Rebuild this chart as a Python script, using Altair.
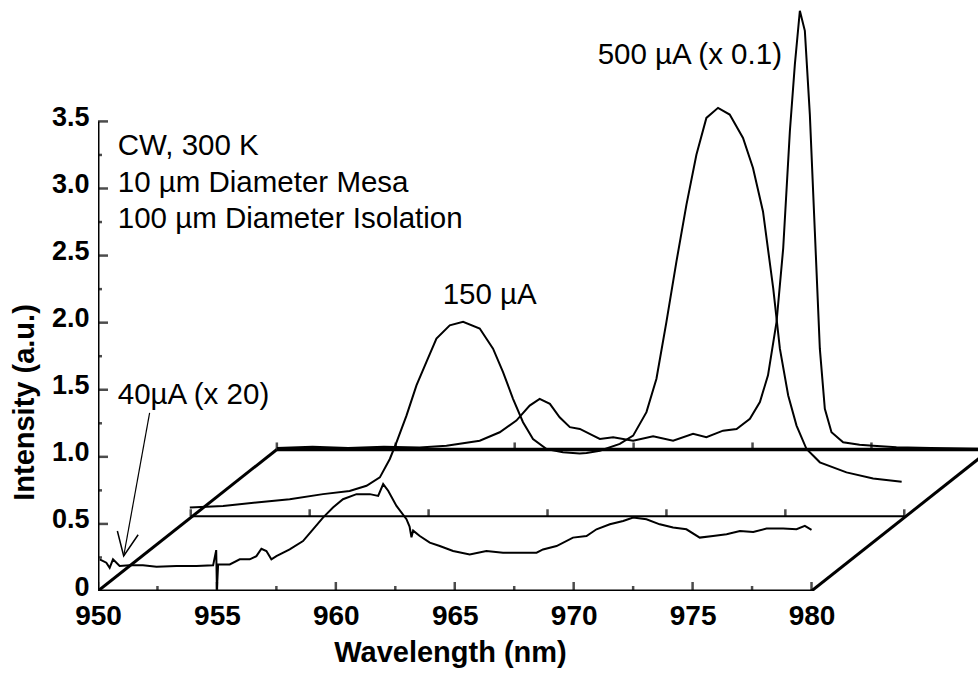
import altair as alt
import pandas as pd

# ---------------- data ----------------
# 40 uA (x 20) spectrum, front plane
front_wl = [950.07, 950.35, 950.49, 950.63, 950.91, 951.33, 951.89, 952.46, 953.3, 954.14,
            954.84, 954.97, 955.0, 955.05, 955.54, 955.96, 956.38, 956.66, 956.87, 957.08,
            957.29, 957.5, 958.06, 958.62, 959.04, 959.46, 959.88, 960.3, 960.87, 961.43,
            961.78, 961.99, 962.2, 962.55, 962.97, 963.1, 963.18, 963.25, 963.53, 963.95,
            964.37, 964.93, 965.63, 966.33, 967.03, 967.73, 968.44, 968.71, 969.28, 969.97,
            970.54, 970.96, 971.52, 972.08, 972.5, 973.06, 973.62, 974.18, 974.74, 975.3,
            975.86, 976.43, 976.99, 977.55, 978.11, 978.81, 979.37, 979.72, 980.0]
front_int = [0.236, 0.211, 0.173, 0.236, 0.186, 0.191, 0.191, 0.181, 0.186, 0.186,
             0.191, 0.305, 0.01, 0.198, 0.198, 0.236, 0.236, 0.26, 0.315, 0.298,
             0.236, 0.26, 0.31, 0.372, 0.46, 0.547, 0.622, 0.684, 0.722, 0.722,
             0.709, 0.797, 0.747, 0.634, 0.535, 0.48, 0.40, 0.45, 0.41, 0.36,
             0.335, 0.298, 0.273, 0.298, 0.286, 0.286, 0.286, 0.31, 0.335, 0.398,
             0.41, 0.46, 0.497, 0.522, 0.547, 0.535, 0.497, 0.473, 0.46, 0.398,
             0.41, 0.423, 0.447, 0.44, 0.465, 0.465, 0.46, 0.485, 0.455]

# 150 uA spectrum, middle plane
mid_wl = [949.96, 951.36, 952.76, 954.16, 955.56, 956.68, 957.39, 957.95, 958.37, 958.65,
          959.07, 959.49, 959.91, 960.33, 960.89, 961.45, 962.15, 962.71, 963.13, 963.55,
          963.97, 964.39, 964.96, 965.65, 966.35, 966.64, 967.2, 968.04, 968.6, 969.16,
          969.58, 970.0, 970.42, 970.84, 971.26, 971.68, 972.17, 972.66, 973.22, 973.64,
          974.06, 974.49, 974.77, 975.12, 975.47, 975.89, 976.45, 977.57, 978.69, 979.89]
mid_int = [0.065, 0.077, 0.103, 0.127, 0.165, 0.189, 0.227, 0.29, 0.427, 0.551,
           0.75, 0.975, 1.15, 1.324, 1.423, 1.449, 1.399, 1.249, 1.075, 0.875,
           0.701, 0.576, 0.501, 0.477, 0.468, 0.471, 0.489, 0.539, 0.601, 0.776,
           1.025, 1.449, 1.898, 2.321, 2.695, 2.969, 3.044, 2.994, 2.82, 2.596,
           2.272, 1.698, 1.249, 0.9, 0.676, 0.501, 0.402, 0.327, 0.282, 0.257]

# 500 uA (x 0.1) spectrum, back plane
back_wl = [950.0, 951.5, 953.0, 954.5, 956.0, 957.13, 958.53, 959.37, 960.07, 960.63,
           961.05, 961.48, 961.89, 962.32, 962.74, 963.3, 963.58, 964.14, 964.98, 965.82,
           966.66, 967.5, 968.06, 968.76, 969.33, 969.89, 970.31, 970.65, 971.01, 971.29,
           971.57, 971.78, 971.99, 972.2, 972.41, 972.62, 972.83, 973.04, 973.32, 973.81,
           974.5, 975.07, 976.05, 977.5, 979.5]
back_int = [0.01, 0.02, 0.01, 0.02, 0.015, 0.028, 0.065, 0.128, 0.215, 0.327,
            0.377, 0.34, 0.24, 0.166, 0.153, 0.103, 0.078, 0.091, 0.065, 0.098,
            0.065, 0.116, 0.091, 0.14, 0.153, 0.228, 0.353, 0.552, 0.951, 1.5,
            2.372, 2.87, 3.27, 3.12, 2.496, 1.624, 0.751, 0.303, 0.128, 0.053,
            0.035, 0.028, 0.016, 0.01, 0.005]

# pseudo-3D planes: wavelength / intensity shift of each baseline
offset_wl = [0.0, 3.9, 7.52]
offset_int = [0.0, 0.557, 1.055]
wl_start, wl_end = 950, 980

x_major = [950, 955, 960, 965, 970, 975, 980]
x_minor = [952.5, 957.5, 962.5, 967.5, 972.5, 977.5]
y_major = [0.5, 1.0, 1.5, 2.0, 2.5, 3.0, 3.5]
y_minor = [0.25, 0.75, 1.25, 1.75, 2.25, 2.75, 3.25]
y_label_values = [0, 0.5, 1.0, 1.5, 2.0, 2.5, 3.0, 3.5]
y_top = 3.5

notes = ["CW, 300 K", "10 µm Diameter Mesa", "100 µm Diameter Isolation",
         "40µA (x 20)", "150 µA", "500 µA (x 0.1)"]
notes_wl = [950.83, 950.83, 950.83, 950.83, 964.49, 971.01]
notes_int = [3.317, 3.041, 2.773, 1.461, 2.206, 3.995]

arrow_from = (952.17, 1.327)
arrow_to = (951.08, 0.261)

# ---------------- build tables ----------------
rows = []
for k, (wl, it) in enumerate([(front_wl, front_int), (mid_wl, mid_int), (back_wl, back_int)]):
    for i, (a, b) in enumerate(zip(wl, it)):
        rows.append({"s": k, "i": i, "x": a + offset_wl[k], "y": b + offset_int[k]})
curves = pd.DataFrame(rows)

dx_b, dy_b = offset_wl[2], offset_int[2]
dx_m, dy_m = offset_wl[1], offset_int[1]
segs = pd.DataFrame([
    {"x": wl_start, "x2": wl_start, "y": 0, "y2": y_top, "w": 3.0},
    {"x": wl_start, "x2": wl_end, "y": 0, "y2": 0, "w": 3.0},
    {"x": wl_start + dx_m, "x2": wl_end + dx_m, "y": dy_m, "y2": dy_m, "w": 2.0},
    {"x": wl_start + dx_b, "x2": wl_end + dx_b, "y": dy_b, "y2": dy_b, "w": 3.5},
    {"x": wl_start, "x2": wl_start + dx_b, "y": 0, "y2": dy_b, "w": 3.0},
    {"x": wl_end, "x2": wl_end + dx_b, "y": 0, "y2": dy_b, "w": 3.0},
    {"x": arrow_from[0], "x2": arrow_to[0], "y": arrow_from[1], "y2": arrow_to[1], "w": 1.2},
])

xmaj = pd.DataFrame({"x": x_major, "y": [0] * len(x_major)})
xmin = pd.DataFrame({"x": x_minor, "y": [0] * len(x_minor)})
plane_ticks = pd.DataFrame(
    [{"x": v + offset_wl[k], "y": offset_int[k]} for k in (1, 2) for v in x_major])
ymaj = pd.DataFrame({"x": [wl_start] * len(y_major), "y": y_major})
ymin = pd.DataFrame({"x": [wl_start] * len(y_minor), "y": y_minor})
notes_df = pd.DataFrame({"t": notes, "x": notes_wl, "y": notes_int})
head_df = pd.DataFrame({"x": [arrow_to[0]], "y": [arrow_to[1]]})

xs = alt.Scale(domain=[950, 987], nice=False, zero=False)
ys = alt.Scale(domain=[0, 4.39], nice=False, zero=False)
FONT = "Liberation Sans"

x_axis = alt.Axis(values=x_major, domain=False, ticks=False, grid=False,
                  labelFont=FONT, labelFontSize=28, labelFontWeight="bold",
                  labelColor="black", labelPadding=11, labelFlush=False,
                  title="Wavelength (nm)", titleFont=FONT, titleFontSize=29,
                  titleFontWeight="bold", titleColor="black",
                  titleX=352, titleY=61, titleBaseline="middle", titleAlign="center")
y_axis = alt.Axis(values=y_label_values, domain=False, ticks=False, grid=False,
                  labelExpr="datum.value == 0 ? '0' : format(datum.value, '.1f')",
                  labelFont=FONT, labelFontSize=27, labelFontWeight="bold",
                  labelColor="black", labelPadding=9, labelFlush=False, labelOffset=-4,
                  title="Intensity (a.u.)", titleFont=FONT, titleFontSize=29,
                  titleFontWeight="bold", titleColor="black", titleAngle=270,
                  titleX=-74, titleY=400, titleBaseline="middle", titleAlign="center")


def X(f="x"):
    return alt.X(f"{f}:Q", scale=xs, axis=x_axis, title="Wavelength (nm)")


def Y(f="y"):
    return alt.Y(f"{f}:Q", scale=ys, axis=y_axis, title="Intensity (a.u.)")


frame = alt.Chart(segs).mark_rule(color="black", clip=True, strokeCap="butt").encode(
    x=X(), x2="x2:Q", y=Y(), y2="y2:Q",
    strokeWidth=alt.StrokeWidth("w:Q", scale=None),
)

lines = alt.Chart(curves).mark_line(color="black", strokeWidth=2, clip=True).encode(
    x=X(), y=Y(), detail="s:N", order="i:Q",
)


def vticks(df, size, thick):
    return alt.Chart(df).mark_tick(color="black", orient="vertical", size=size,
                                   thickness=thick, yOffset=-size / 2, clip=True).encode(
        x=X(), y=Y())


def hticks(df, size, thick):
    return alt.Chart(df).mark_tick(color="black", orient="horizontal", size=size,
                                   thickness=thick, xOffset=size / 2).encode(
        x=X(), y=Y())


texts = alt.Chart(notes_df).mark_text(align="left", baseline="middle", font=FONT,
                                      fontSize=29.5, color="black").encode(
    x=X(), y=Y(), text="t:N")

head = alt.Chart(head_df).mark_point(
    shape="M -0.45 -1 L 0 0 L 0.45 -1", filled=False, size=2200, angle=10,
    color="black", strokeWidth=1.5, opacity=1).encode(x=X(), y=Y())

chart = alt.layer(
    frame, lines,
    vticks(xmaj, 9, 2.5), vticks(xmin, 5, 2.5), vticks(plane_ticks, 7, 2.5),
    hticks(ymaj, 10, 2.5), hticks(ymin, 4, 2.5),
    texts, head,
).properties(
    width=880, height=589,
    autosize=alt.AutoSizeParams(type="none"),
    padding={"left": 98, "top": 2, "right": 2, "bottom": 82},
    background="white",
).configure_view(stroke=None)

chart.save("out.html", embed_options={"renderer": "svg", "actions": False})
